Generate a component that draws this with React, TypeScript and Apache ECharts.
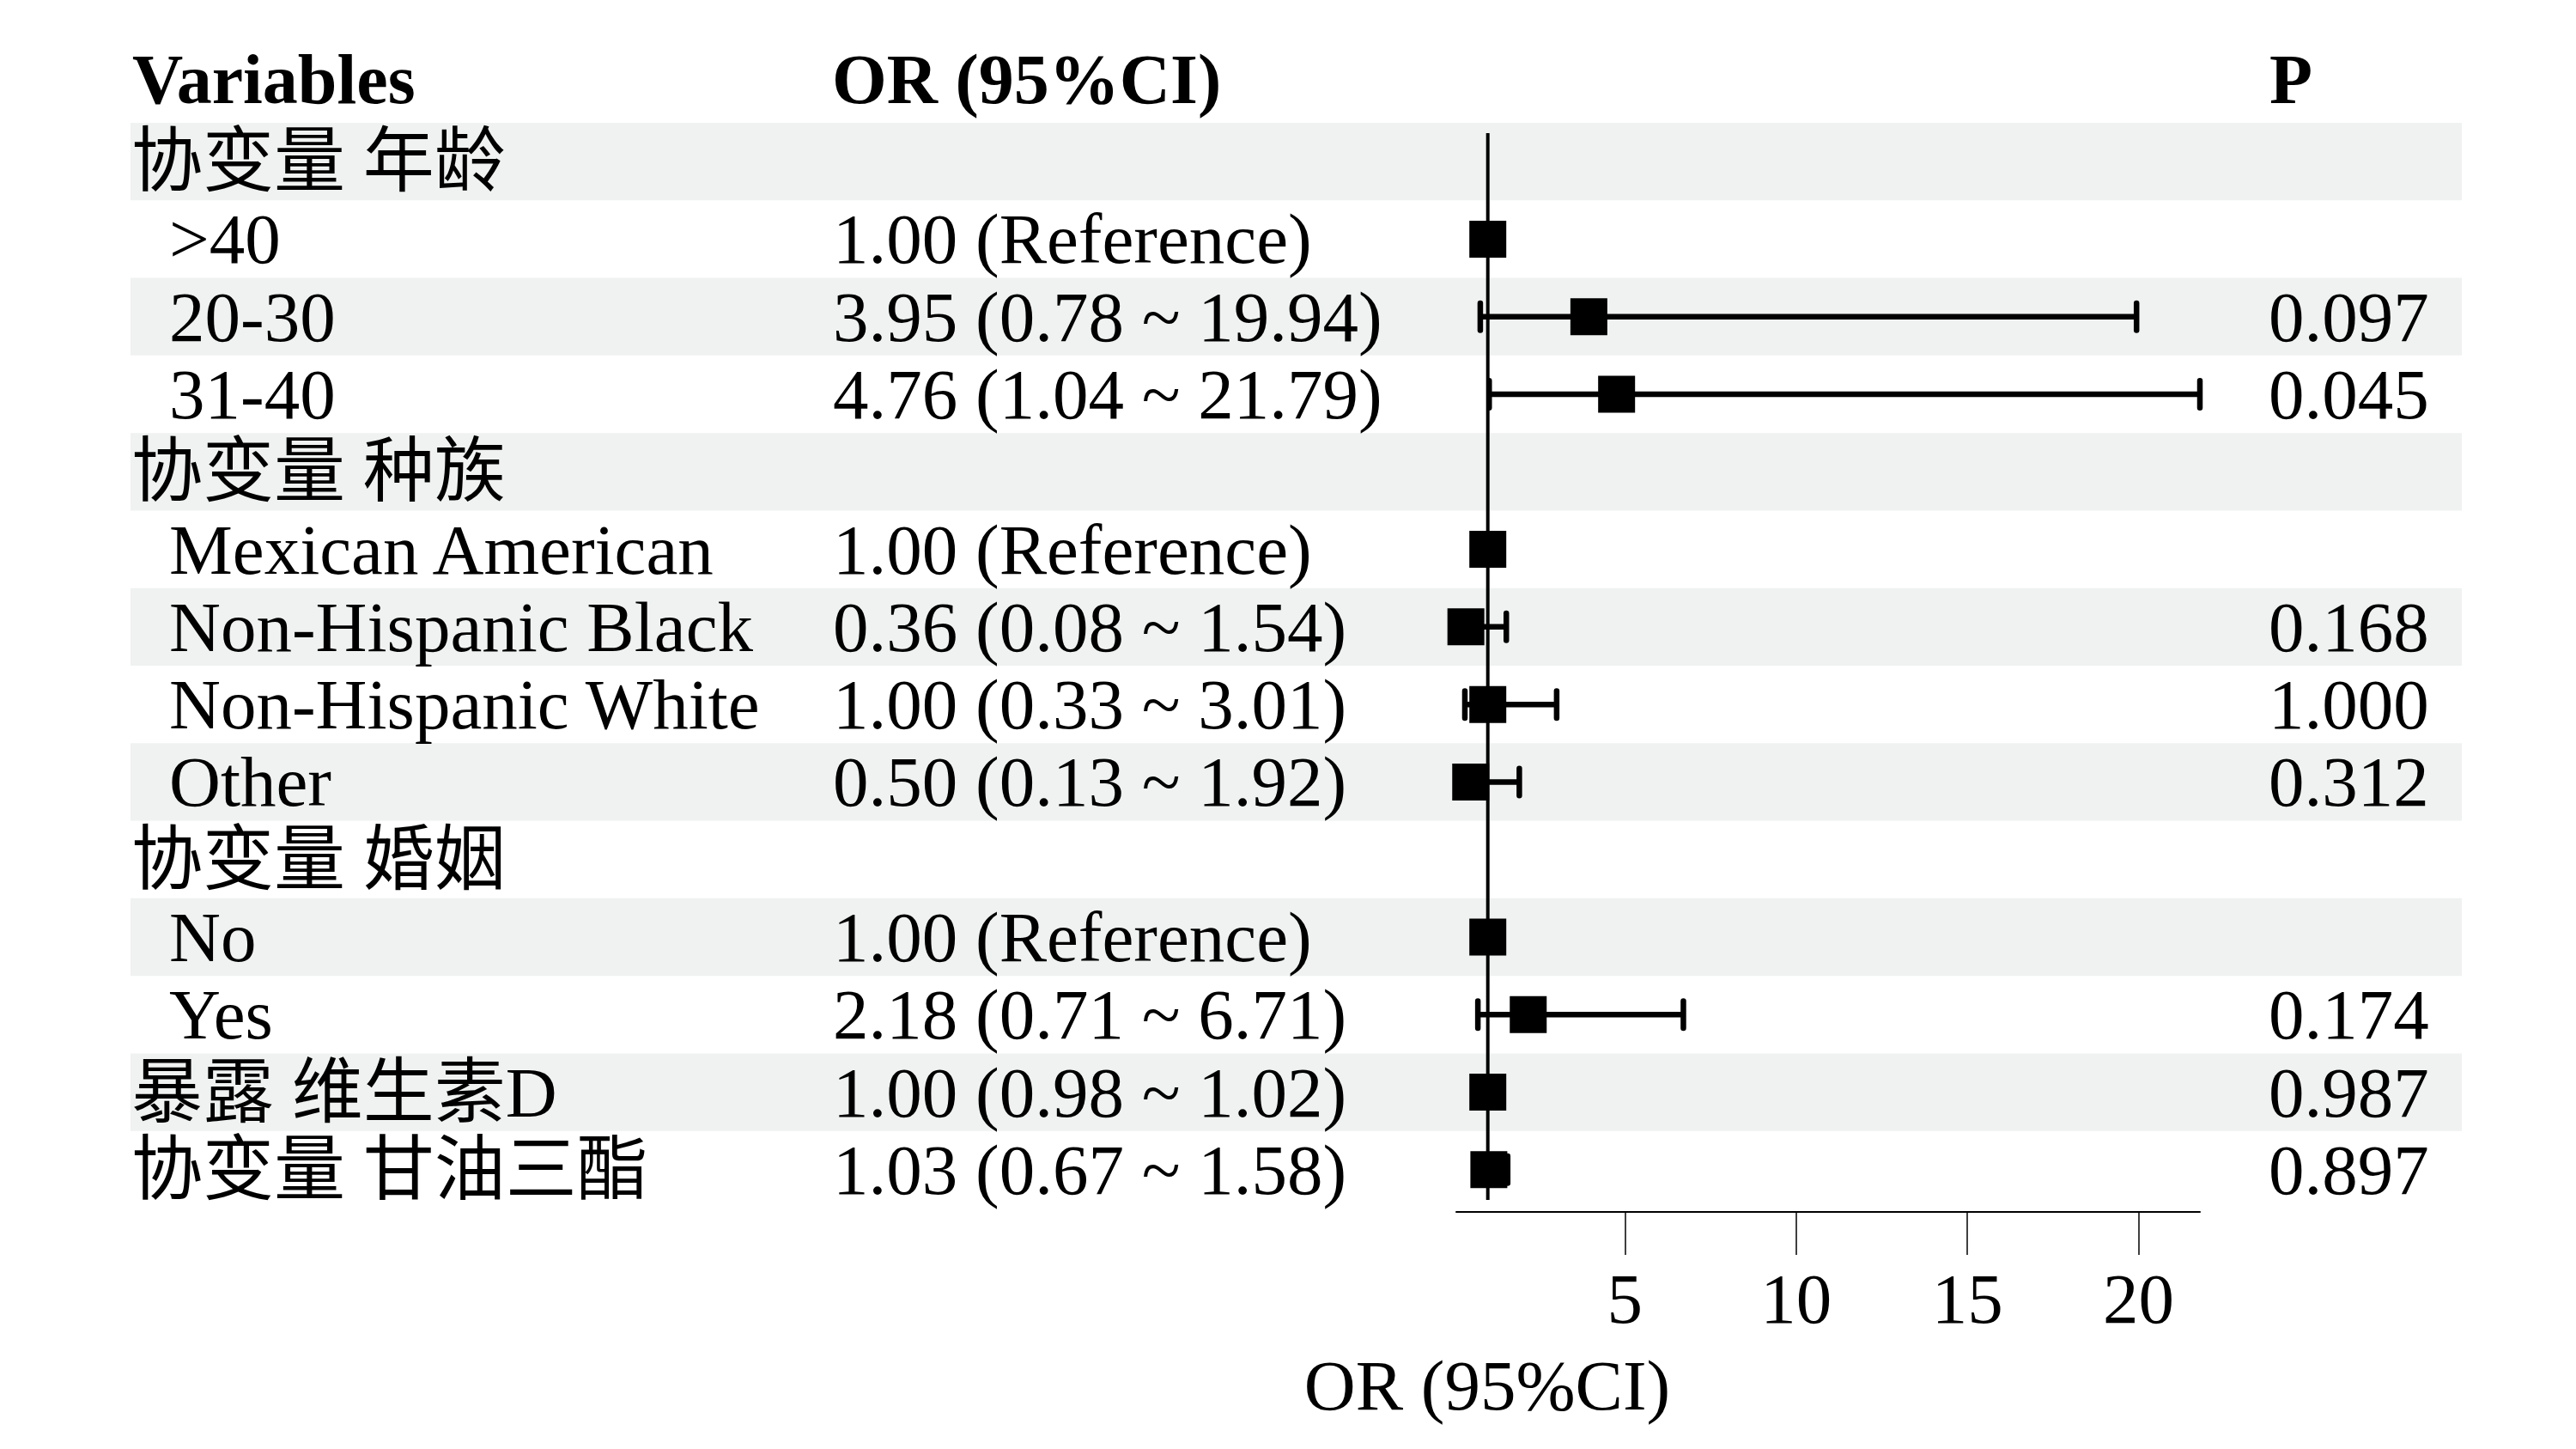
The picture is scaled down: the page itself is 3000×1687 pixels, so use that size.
import React, { useEffect, useRef } from 'react';
import * as echarts from 'echarts';

const rowLabels = [
  '协变量 年龄', '>40', '20-30', '31-40',
  '协变量 种族', 'Mexican American', 'Non-Hispanic Black', 'Non-Hispanic White', 'Other',
  '协变量 婚姻', 'No', 'Yes',
  '暴露 维生素D', '协变量 甘油三酯',
];
const rowIndented = [false, true, true, true, false, true, true, true, true, false, true, true, false, false];
const orValues = [null, 1.0, 3.95, 4.76, null, 1.0, 0.36, 1.0, 0.5, null, 1.0, 2.18, 1.0, 1.03];
const ciLower = [null, null, 0.78, 1.04, null, null, 0.08, 0.33, 0.13, null, null, 0.71, 0.98, 0.67];
const ciUpper = [null, null, 19.94, 21.79, null, null, 1.54, 3.01, 1.92, null, null, 6.71, 1.02, 1.58];
const orTexts = [
  '', '1.00 (Reference)', '3.95 (0.78 ~ 19.94)', '4.76 (1.04 ~ 21.79)',
  '', '1.00 (Reference)', '0.36 (0.08 ~ 1.54)', '1.00 (0.33 ~ 3.01)', '0.50 (0.13 ~ 1.92)',
  '', '1.00 (Reference)', '2.18 (0.71 ~ 6.71)',
  '1.00 (0.98 ~ 1.02)', '1.03 (0.67 ~ 1.58)',
];
const pTexts = ['', '', '0.097', '0.045', '', '', '0.168', '1.000', '0.312', '', '', '0.174', '0.987', '0.897'];
const xTicks = [5, 10, 15, 20];
const headerTexts = ['Variables', 'OR (95%CI)', 'P'];
const axisTitle = 'OR (95%CI)';
const refValue = 1;
const axisMin = 0.08;
const axisMax = 21.79;

const FONT = "'Liberation Serif', 'Noto Sans CJK SC', serif";
const FS = 83;

export default function App() {
  const ref = useRef<HTMLDivElement>(null);

  useEffect(() => {
    if (!ref.current) return;
    const chart = echarts.init(ref.current, undefined, { renderer: 'svg' });
    const n = rowLabels.length;

    const bandData = rowLabels.map((_, i) => [axisMin, i]).filter((_, i) => i % 2 === 0);
    const textData = rowLabels.map((_, i) => [axisMin, i]);
    const forestData: any[] = [];
    orValues.forEach((v, i) => {
      if (v !== null) forestData.push([v, i]);
    });

    const textStyle = (text: string, extra: any = {}) => ({
      text,
      fontSize: FS,
      fontFamily: FONT,
      fill: '#000',
      align: 'left',
      verticalAlign: 'middle',
      textAlign: 'left',
      textVerticalAlign: 'middle',
      ...extra,
    });

    const option: any = {
      animation: false,
      backgroundColor: '#ffffff',
      grid: { left: 1696, right: 3000 - 2562, top: 143, bottom: 1687 - 1407, containLabel: false },
      xAxis: {
        type: 'value',
        min: axisMin,
        max: axisMax,
        offset: 4,
        axisLine: { show: true, lineStyle: { color: '#000', width: 2 } },
        axisTick: { show: true, customValues: xTicks, length: 50, lineStyle: { color: '#000', width: 1.5 } },
        axisLabel: { customValues: xTicks, fontSize: FS, fontFamily: FONT, color: '#000', margin: 59, lineHeight: FS },
        splitLine: { show: false },
      },
      yAxis: {
        type: 'category',
        data: rowLabels,
        inverse: true,
        show: false,
      },
      graphic: [
        { type: 'text', x: 154, y: 92, style: textStyle(headerTexts[0], { fontWeight: 'bold', fontSize: 82 }) },
        { type: 'text', x: 969, y: 92, style: textStyle(headerTexts[1], { fontWeight: 'bold', fontSize: 82 }) },
        { type: 'text', x: 2643, y: 92, style: textStyle(headerTexts[2], { fontWeight: 'bold', fontSize: 82 }) },
        { type: 'text', x: 1732, y: 1613, style: textStyle(axisTitle, { align: 'center', textAlign: 'center' }) },
      ],
      series: [
        {
          type: 'custom',
          coordinateSystem: 'cartesian2d',
          clip: false,
          z: 0,
          silent: true,
          encode: { x: 0, y: 1 },
          data: bandData,
          renderItem: (params: any, api: any) => {
            const c = api.coord([api.value(0), api.value(1)]);
            const h = api.size([0, 1])[1];
            return {
              type: 'rect',
              shape: { x: 152, y: c[1] - h / 2, width: 2867 - 152, height: h },
              style: { fill: '#EFF2F1' },
            };
          },
        },
        {
          type: 'custom',
          coordinateSystem: 'cartesian2d',
          clip: false,
          z: 1,
          silent: true,
          encode: { x: 0, y: 1 },
          data: [[refValue, 0]],
          renderItem: (params: any, api: any) => {
            const top = api.coord([refValue, 0]);
            const bot = api.coord([refValue, n - 1]);
            const h = api.size([0, 1])[1];
            const y1 = top[1] - h / 2 + 12;
            const y2 = bot[1] + h / 2 - 10;
            return {
              type: 'rect',
              shape: { x: top[0] - 2, y: y1, width: 4, height: y2 - y1 },
              style: { fill: '#000' },
            };
          },
        },
        {
          type: 'custom',
          coordinateSystem: 'cartesian2d',
          clip: false,
          z: 2,
          silent: true,
          encode: { x: 0, y: 1 },
          data: forestData,
          renderItem: (params: any, api: any) => {
            const v = api.value(0);
            const i = api.value(1);
            const c = api.coord([v, i]);
            const children: any[] = [];
            const lo = ciLower[i];
            const hi = ciUpper[i];
            const lw = 6.5;
            if (lo !== null && hi !== null) {
              const pl = api.coord([lo, i]);
              const ph = api.coord([hi, i]);
              children.push({
                type: 'rect',
                shape: { x: pl[0], y: c[1] - lw / 2, width: ph[0] - pl[0], height: lw },
                style: { fill: '#000' },
              });
              [pl[0], ph[0]].forEach((x) => {
                children.push({
                  type: 'rect',
                  shape: { x: x - lw / 2, y: c[1] - 19, width: lw, height: 38, r: lw / 2 },
                  style: { fill: '#000' },
                });
              });
            }
            const s = 43;
            children.push({
              type: 'rect',
              shape: { x: c[0] - s / 2, y: c[1] - s / 2, width: s, height: s },
              style: { fill: '#000' },
            });
            return { type: 'group', children };
          },
        },
        {
          type: 'custom',
          coordinateSystem: 'cartesian2d',
          clip: false,
          z: 3,
          silent: true,
          encode: { x: 0, y: 1 },
          data: textData,
          renderItem: (params: any, api: any) => {
            const i = api.value(1);
            const c = api.coord([axisMin, i]);
            return {
              type: 'group',
              children: [
                { type: 'text', x: rowIndented[i] ? 197 : 153, y: c[1], style: textStyle(rowLabels[i]) },
                { type: 'text', x: 970, y: c[1], style: textStyle(orTexts[i]) },
                { type: 'text', x: 2642, y: c[1], style: textStyle(pTexts[i]) },
              ],
            };
          },
        },
      ],
    };

    chart.setOption(option);
    return () => chart.dispose();
  }, []);

  return (
    <div
      ref={ref}
      style={{ position: 'fixed', left: 0, top: 0, width: 3000, height: 1687, background: '#fff' }}
    />
  );
}
